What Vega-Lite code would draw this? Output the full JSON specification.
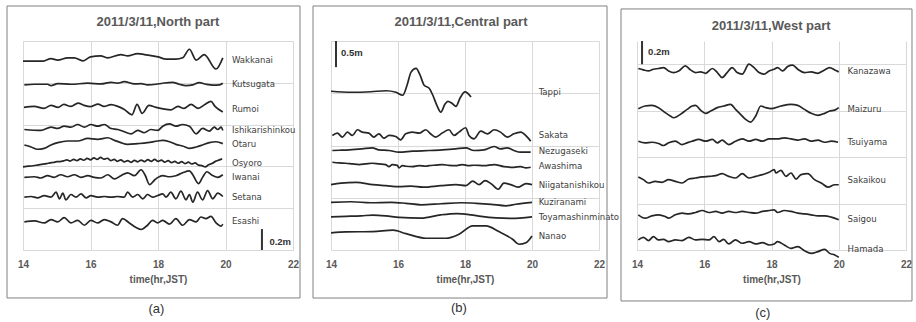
{
"$schema": "https://vega.github.io/schema/vega-lite/v6.json",
"background": "white",
"padding": {"left": 6, "top": 5, "right": 5, "bottom": 5},
"bounds": "flush",
"spacing": 38,
"config": {
 "font": "Liberation Sans",
 "view": {"stroke": null},
 "axis": {"gridColor": "#d9d9d9", "gridWidth": 1, "domain": false, "ticks": false, "labelFlush": false, "labelOverlap": false},
 "axisX": {"labelFont": "Liberation Sans", "labelFontWeight": "bold", "labelColor": "#595959", "labelFontSize": 10, "labelPadding": 9, "titleFont": "Liberation Sans", "titleFontWeight": "bold", "titleColor": "#595959", "titleFontSize": 10, "titlePadding": 5}
},
"datasets": {
"labels": [
 {"p":"a","s":"Wakkanai","v":1.82},{"p":"a","s":"Kutsugata","v":1.592},{"p":"a","s":"Rumoi","v":1.346},{"p":"a","s":"Ishikarishinkou","v":1.147},{"p":"a","s":"Otaru","v":1.019},{"p":"a","s":"Osyoro","v":0.834},{"p":"a","s":"Iwanai","v":0.697},{"p":"a","s":"Setana","v":0.507},{"p":"a","s":"Esashi","v":0.275},
 {"p":"b","s":"Tappi","v":3.019},{"p":"b","s":"Sakata","v":2.192},{"p":"b","s":"Nezugaseki","v":1.904},{"p":"b","s":"Awashima","v":1.615},{"p":"b","s":"Niigatanishikou","v":1.24},{"p":"b","s":"Kuziranami","v":0.923},{"p":"b","s":"Toyamashinminato","v":0.625},{"p":"b","s":"Nanao","v":0.269},
 {"p":"c","s":"Kanazawa","v":1.54},{"p":"c","s":"Maizuru","v":1.211},{"p":"c","s":"Tsuiyama","v":0.926},{"p":"c","s":"Sakaikou","v":0.606},{"p":"c","s":"Saigou","v":0.268},{"p":"c","s":"Hamada","v":0.009}
],
"wave": [
{"p":"a","s":"Wakkanai","t":14.0,"v":1.808},{"p":"a","s":"Wakkanai","t":14.6,"v":1.808},{"p":"a","s":"Wakkanai","t":14.83,"v":1.832},{"p":"a","s":"Wakkanai","t":15.03,"v":1.817},{"p":"a","s":"Wakkanai","t":15.32,"v":1.839},{"p":"a","s":"Wakkanai","t":15.52,"v":1.839},{"p":"a","s":"Wakkanai","t":15.77,"v":1.81},{"p":"a","s":"Wakkanai","t":16.0,"v":1.848},{"p":"a","s":"Wakkanai","t":16.3,"v":1.858},{"p":"a","s":"Wakkanai","t":16.5,"v":1.839},{"p":"a","s":"Wakkanai","t":16.9,"v":1.87},{"p":"a","s":"Wakkanai","t":17.1,"v":1.858},{"p":"a","s":"Wakkanai","t":17.4,"v":1.88},{"p":"a","s":"Wakkanai","t":17.6,"v":1.87},{"p":"a","s":"Wakkanai","t":18.0,"v":1.848},{"p":"a","s":"Wakkanai","t":18.24,"v":1.827},{"p":"a","s":"Wakkanai","t":18.53,"v":1.827},{"p":"a","s":"Wakkanai","t":18.73,"v":1.839},{"p":"a","s":"Wakkanai","t":18.93,"v":1.921},{"p":"a","s":"Wakkanai","t":19.13,"v":1.817},{"p":"a","s":"Wakkanai","t":19.37,"v":1.87},{"p":"a","s":"Wakkanai","t":19.72,"v":1.732},{"p":"a","s":"Wakkanai","t":19.92,"v":1.839},
{"p":"a","s":"Kutsugata","t":14.04,"v":1.58},{"p":"a","s":"Kutsugata","t":14.34,"v":1.586},{"p":"a","s":"Kutsugata","t":14.73,"v":1.586},{"p":"a","s":"Kutsugata","t":14.83,"v":1.573},{"p":"a","s":"Kutsugata","t":15.03,"v":1.592},{"p":"a","s":"Kutsugata","t":15.42,"v":1.586},{"p":"a","s":"Kutsugata","t":15.92,"v":1.596},{"p":"a","s":"Kutsugata","t":16.31,"v":1.589},{"p":"a","s":"Kutsugata","t":16.61,"v":1.605},{"p":"a","s":"Kutsugata","t":16.8,"v":1.596},{"p":"a","s":"Kutsugata","t":17.0,"v":1.611},{"p":"a","s":"Kutsugata","t":17.3,"v":1.589},{"p":"a","s":"Kutsugata","t":17.5,"v":1.592},{"p":"a","s":"Kutsugata","t":17.69,"v":1.58},{"p":"a","s":"Kutsugata","t":17.94,"v":1.586},{"p":"a","s":"Kutsugata","t":18.14,"v":1.596},{"p":"a","s":"Kutsugata","t":18.43,"v":1.605},{"p":"a","s":"Kutsugata","t":18.63,"v":1.586},{"p":"a","s":"Kutsugata","t":18.83,"v":1.573},{"p":"a","s":"Kutsugata","t":19.03,"v":1.58},{"p":"a","s":"Kutsugata","t":19.22,"v":1.602},{"p":"a","s":"Kutsugata","t":19.42,"v":1.586},{"p":"a","s":"Kutsugata","t":19.62,"v":1.577},{"p":"a","s":"Kutsugata","t":19.82,"v":1.58},{"p":"a","s":"Kutsugata","t":19.92,"v":1.596},
{"p":"a","s":"Rumoi","t":14.03,"v":1.365},{"p":"a","s":"Rumoi","t":14.33,"v":1.374},{"p":"a","s":"Rumoi","t":14.62,"v":1.355},{"p":"a","s":"Rumoi","t":14.83,"v":1.384},{"p":"a","s":"Rumoi","t":15.04,"v":1.365},{"p":"a","s":"Rumoi","t":15.21,"v":1.393},{"p":"a","s":"Rumoi","t":15.42,"v":1.374},{"p":"a","s":"Rumoi","t":15.63,"v":1.406},{"p":"a","s":"Rumoi","t":15.81,"v":1.384},{"p":"a","s":"Rumoi","t":16.01,"v":1.372},{"p":"a","s":"Rumoi","t":16.22,"v":1.396},{"p":"a","s":"Rumoi","t":16.4,"v":1.374},{"p":"a","s":"Rumoi","t":16.61,"v":1.391},{"p":"a","s":"Rumoi","t":16.81,"v":1.374},{"p":"a","s":"Rumoi","t":16.99,"v":1.347},{"p":"a","s":"Rumoi","t":17.23,"v":1.294},{"p":"a","s":"Rumoi","t":17.38,"v":1.393},{"p":"a","s":"Rumoi","t":17.53,"v":1.308},{"p":"a","s":"Rumoi","t":17.73,"v":1.384},{"p":"a","s":"Rumoi","t":17.94,"v":1.365},{"p":"a","s":"Rumoi","t":18.15,"v":1.351},{"p":"a","s":"Rumoi","t":18.38,"v":1.341},{"p":"a","s":"Rumoi","t":18.59,"v":1.374},{"p":"a","s":"Rumoi","t":18.77,"v":1.355},{"p":"a","s":"Rumoi","t":18.98,"v":1.393},{"p":"a","s":"Rumoi","t":19.19,"v":1.355},{"p":"a","s":"Rumoi","t":19.39,"v":1.393},{"p":"a","s":"Rumoi","t":19.57,"v":1.422},{"p":"a","s":"Rumoi","t":19.69,"v":1.374},{"p":"a","s":"Rumoi","t":19.92,"v":1.32},
{"p":"a","s":"Ishikarishinkou","t":14.04,"v":1.153},{"p":"a","s":"Ishikarishinkou","t":14.53,"v":1.144},{"p":"a","s":"Ishikarishinkou","t":14.83,"v":1.175},{"p":"a","s":"Ishikarishinkou","t":15.03,"v":1.163},{"p":"a","s":"Ishikarishinkou","t":15.22,"v":1.185},{"p":"a","s":"Ishikarishinkou","t":15.42,"v":1.175},{"p":"a","s":"Ishikarishinkou","t":15.62,"v":1.201},{"p":"a","s":"Ishikarishinkou","t":15.82,"v":1.175},{"p":"a","s":"Ishikarishinkou","t":16.01,"v":1.201},{"p":"a","s":"Ishikarishinkou","t":16.21,"v":1.185},{"p":"a","s":"Ishikarishinkou","t":16.41,"v":1.201},{"p":"a","s":"Ishikarishinkou","t":16.61,"v":1.163},{"p":"a","s":"Ishikarishinkou","t":16.81,"v":1.153},{"p":"a","s":"Ishikarishinkou","t":17.0,"v":1.131},{"p":"a","s":"Ishikarishinkou","t":17.2,"v":1.112},{"p":"a","s":"Ishikarishinkou","t":17.4,"v":1.144},{"p":"a","s":"Ishikarishinkou","t":17.59,"v":1.122},{"p":"a","s":"Ishikarishinkou","t":17.79,"v":1.153},{"p":"a","s":"Ishikarishinkou","t":17.99,"v":1.144},{"p":"a","s":"Ishikarishinkou","t":18.14,"v":1.185},{"p":"a","s":"Ishikarishinkou","t":18.34,"v":1.207},{"p":"a","s":"Ishikarishinkou","t":18.53,"v":1.185},{"p":"a","s":"Ishikarishinkou","t":18.73,"v":1.201},{"p":"a","s":"Ishikarishinkou","t":18.93,"v":1.185},{"p":"a","s":"Ishikarishinkou","t":19.13,"v":1.112},{"p":"a","s":"Ishikarishinkou","t":19.32,"v":1.163},{"p":"a","s":"Ishikarishinkou","t":19.52,"v":1.138},{"p":"a","s":"Ishikarishinkou","t":19.67,"v":1.175},{"p":"a","s":"Ishikarishinkou","t":19.77,"v":1.153},{"p":"a","s":"Ishikarishinkou","t":19.87,"v":1.175},{"p":"a","s":"Ishikarishinkou","t":19.92,"v":1.144},
{"p":"a","s":"Otaru","t":14.04,"v":1.005},{"p":"a","s":"Otaru","t":14.24,"v":0.986},{"p":"a","s":"Otaru","t":14.43,"v":0.964},{"p":"a","s":"Otaru","t":14.63,"v":0.973},{"p":"a","s":"Otaru","t":14.83,"v":1.005},{"p":"a","s":"Otaru","t":15.03,"v":1.027},{"p":"a","s":"Otaru","t":15.32,"v":1.043},{"p":"a","s":"Otaru","t":15.62,"v":1.043},{"p":"a","s":"Otaru","t":15.92,"v":1.068},{"p":"a","s":"Otaru","t":16.21,"v":1.059},{"p":"a","s":"Otaru","t":16.51,"v":1.074},{"p":"a","s":"Otaru","t":16.71,"v":1.049},{"p":"a","s":"Otaru","t":16.9,"v":1.027},{"p":"a","s":"Otaru","t":17.1,"v":1.011},{"p":"a","s":"Otaru","t":17.4,"v":1.018},{"p":"a","s":"Otaru","t":17.69,"v":1.027},{"p":"a","s":"Otaru","t":17.99,"v":1.043},{"p":"a","s":"Otaru","t":18.14,"v":1.049},{"p":"a","s":"Otaru","t":18.34,"v":1.036},{"p":"a","s":"Otaru","t":18.53,"v":1.011},{"p":"a","s":"Otaru","t":18.73,"v":0.995},{"p":"a","s":"Otaru","t":18.93,"v":0.973},{"p":"a","s":"Otaru","t":19.13,"v":0.986},{"p":"a","s":"Otaru","t":19.32,"v":1.005},{"p":"a","s":"Otaru","t":19.52,"v":1.027},{"p":"a","s":"Otaru","t":19.72,"v":1.036},{"p":"a","s":"Otaru","t":19.92,"v":1.018},
{"p":"a","s":"Osyoro","t":14.0,"v":0.796},{"p":"a","s":"Osyoro","t":14.1,"v":0.8},{"p":"a","s":"Osyoro","t":14.2,"v":0.803},{"p":"a","s":"Osyoro","t":14.3,"v":0.806},{"p":"a","s":"Osyoro","t":14.4,"v":0.811},{"p":"a","s":"Osyoro","t":14.5,"v":0.817},{"p":"a","s":"Osyoro","t":14.6,"v":0.822},{"p":"a","s":"Osyoro","t":14.7,"v":0.826},{"p":"a","s":"Osyoro","t":14.8,"v":0.834},{"p":"a","s":"Osyoro","t":14.9,"v":0.837},{"p":"a","s":"Osyoro","t":15.0,"v":0.845},{"p":"a","s":"Osyoro","t":15.1,"v":0.846},{"p":"a","s":"Osyoro","t":15.2,"v":0.853},{"p":"a","s":"Osyoro","t":15.3,"v":0.862},{"p":"a","s":"Osyoro","t":15.4,"v":0.851},{"p":"a","s":"Osyoro","t":15.5,"v":0.868},{"p":"a","s":"Osyoro","t":15.6,"v":0.855},{"p":"a","s":"Osyoro","t":15.7,"v":0.872},{"p":"a","s":"Osyoro","t":15.8,"v":0.859},{"p":"a","s":"Osyoro","t":15.9,"v":0.877},{"p":"a","s":"Osyoro","t":16.0,"v":0.863},{"p":"a","s":"Osyoro","t":16.1,"v":0.882},{"p":"a","s":"Osyoro","t":16.2,"v":0.867},{"p":"a","s":"Osyoro","t":16.3,"v":0.886},{"p":"a","s":"Osyoro","t":16.4,"v":0.869},{"p":"a","s":"Osyoro","t":16.5,"v":0.878},{"p":"a","s":"Osyoro","t":16.6,"v":0.856},{"p":"a","s":"Osyoro","t":16.7,"v":0.868},{"p":"a","s":"Osyoro","t":16.8,"v":0.849},{"p":"a","s":"Osyoro","t":16.9,"v":0.862},{"p":"a","s":"Osyoro","t":17.0,"v":0.843},{"p":"a","s":"Osyoro","t":17.1,"v":0.856},{"p":"a","s":"Osyoro","t":17.2,"v":0.839},{"p":"a","s":"Osyoro","t":17.3,"v":0.858},{"p":"a","s":"Osyoro","t":17.4,"v":0.844},{"p":"a","s":"Osyoro","t":17.5,"v":0.861},{"p":"a","s":"Osyoro","t":17.6,"v":0.846},{"p":"a","s":"Osyoro","t":17.7,"v":0.865},{"p":"a","s":"Osyoro","t":17.8,"v":0.849},{"p":"a","s":"Osyoro","t":17.9,"v":0.868},{"p":"a","s":"Osyoro","t":18.0,"v":0.848},{"p":"a","s":"Osyoro","t":18.1,"v":0.861},{"p":"a","s":"Osyoro","t":18.2,"v":0.841},{"p":"a","s":"Osyoro","t":18.3,"v":0.855},{"p":"a","s":"Osyoro","t":18.4,"v":0.836},{"p":"a","s":"Osyoro","t":18.5,"v":0.848},{"p":"a","s":"Osyoro","t":18.6,"v":0.83},{"p":"a","s":"Osyoro","t":18.7,"v":0.845},{"p":"a","s":"Osyoro","t":18.8,"v":0.827},{"p":"a","s":"Osyoro","t":18.9,"v":0.84},{"p":"a","s":"Osyoro","t":19.0,"v":0.823},{"p":"a","s":"Osyoro","t":19.1,"v":0.833},{"p":"a","s":"Osyoro","t":19.2,"v":0.812},{"p":"a","s":"Osyoro","t":19.3,"v":0.808},{"p":"a","s":"Osyoro","t":19.4,"v":0.796},{"p":"a","s":"Osyoro","t":19.5,"v":0.815},{"p":"a","s":"Osyoro","t":19.6,"v":0.828},{"p":"a","s":"Osyoro","t":19.7,"v":0.848},{"p":"a","s":"Osyoro","t":19.8,"v":0.86},{"p":"a","s":"Osyoro","t":19.9,"v":0.872},
{"p":"a","s":"Iwanai","t":14.04,"v":0.695},{"p":"a","s":"Iwanai","t":14.34,"v":0.701},{"p":"a","s":"Iwanai","t":14.53,"v":0.689},{"p":"a","s":"Iwanai","t":14.73,"v":0.711},{"p":"a","s":"Iwanai","t":14.92,"v":0.695},{"p":"a","s":"Iwanai","t":15.12,"v":0.72},{"p":"a","s":"Iwanai","t":15.32,"v":0.701},{"p":"a","s":"Iwanai","t":15.52,"v":0.72},{"p":"a","s":"Iwanai","t":15.72,"v":0.695},{"p":"a","s":"Iwanai","t":15.92,"v":0.711},{"p":"a","s":"Iwanai","t":16.11,"v":0.695},{"p":"a","s":"Iwanai","t":16.31,"v":0.689},{"p":"a","s":"Iwanai","t":16.51,"v":0.72},{"p":"a","s":"Iwanai","t":16.71,"v":0.68},{"p":"a","s":"Iwanai","t":16.9,"v":0.711},{"p":"a","s":"Iwanai","t":17.1,"v":0.739},{"p":"a","s":"Iwanai","t":17.3,"v":0.711},{"p":"a","s":"Iwanai","t":17.5,"v":0.768},{"p":"a","s":"Iwanai","t":17.62,"v":0.715},{"p":"a","s":"Iwanai","t":17.75,"v":0.626},{"p":"a","s":"Iwanai","t":17.9,"v":0.67},{"p":"a","s":"Iwanai","t":18.0,"v":0.695},{"p":"a","s":"Iwanai","t":18.14,"v":0.711},{"p":"a","s":"Iwanai","t":18.34,"v":0.701},{"p":"a","s":"Iwanai","t":18.53,"v":0.711},{"p":"a","s":"Iwanai","t":18.73,"v":0.739},{"p":"a","s":"Iwanai","t":18.93,"v":0.758},{"p":"a","s":"Iwanai","t":19.03,"v":0.72},{"p":"a","s":"Iwanai","t":19.2,"v":0.635},{"p":"a","s":"Iwanai","t":19.32,"v":0.695},{"p":"a","s":"Iwanai","t":19.45,"v":0.749},{"p":"a","s":"Iwanai","t":19.6,"v":0.715},{"p":"a","s":"Iwanai","t":19.77,"v":0.695},{"p":"a","s":"Iwanai","t":19.92,"v":0.72},
{"p":"a","s":"Setana","t":14.04,"v":0.506},{"p":"a","s":"Setana","t":14.24,"v":0.512},{"p":"a","s":"Setana","t":14.43,"v":0.499},{"p":"a","s":"Setana","t":14.63,"v":0.521},{"p":"a","s":"Setana","t":14.83,"v":0.506},{"p":"a","s":"Setana","t":14.98,"v":0.553},{"p":"a","s":"Setana","t":15.08,"v":0.49},{"p":"a","s":"Setana","t":15.18,"v":0.544},{"p":"a","s":"Setana","t":15.27,"v":0.48},{"p":"a","s":"Setana","t":15.42,"v":0.531},{"p":"a","s":"Setana","t":15.57,"v":0.506},{"p":"a","s":"Setana","t":15.72,"v":0.537},{"p":"a","s":"Setana","t":15.87,"v":0.499},{"p":"a","s":"Setana","t":16.01,"v":0.521},{"p":"a","s":"Setana","t":16.21,"v":0.506},{"p":"a","s":"Setana","t":16.41,"v":0.512},{"p":"a","s":"Setana","t":16.61,"v":0.506},{"p":"a","s":"Setana","t":16.8,"v":0.512},{"p":"a","s":"Setana","t":17.0,"v":0.506},{"p":"a","s":"Setana","t":17.1,"v":0.553},{"p":"a","s":"Setana","t":17.25,"v":0.506},{"p":"a","s":"Setana","t":17.4,"v":0.531},{"p":"a","s":"Setana","t":17.55,"v":0.49},{"p":"a","s":"Setana","t":17.69,"v":0.531},{"p":"a","s":"Setana","t":17.84,"v":0.506},{"p":"a","s":"Setana","t":17.99,"v":0.521},{"p":"a","s":"Setana","t":18.14,"v":0.537},{"p":"a","s":"Setana","t":18.24,"v":0.506},{"p":"a","s":"Setana","t":18.38,"v":0.553},{"p":"a","s":"Setana","t":18.53,"v":0.49},{"p":"a","s":"Setana","t":18.68,"v":0.563},{"p":"a","s":"Setana","t":18.83,"v":0.48},{"p":"a","s":"Setana","t":18.93,"v":0.531},{"p":"a","s":"Setana","t":19.03,"v":0.458},{"p":"a","s":"Setana","t":19.17,"v":0.553},{"p":"a","s":"Setana","t":19.32,"v":0.48},{"p":"a","s":"Setana","t":19.47,"v":0.569},{"p":"a","s":"Setana","t":19.62,"v":0.49},{"p":"a","s":"Setana","t":19.77,"v":0.544},{"p":"a","s":"Setana","t":19.92,"v":0.512},
{"p":"a","s":"Esashi","t":14.04,"v":0.269},{"p":"a","s":"Esashi","t":14.34,"v":0.278},{"p":"a","s":"Esashi","t":14.63,"v":0.259},{"p":"a","s":"Esashi","t":14.83,"v":0.291},{"p":"a","s":"Esashi","t":15.03,"v":0.269},{"p":"a","s":"Esashi","t":15.22,"v":0.31},{"p":"a","s":"Esashi","t":15.42,"v":0.259},{"p":"a","s":"Esashi","t":15.62,"v":0.284},{"p":"a","s":"Esashi","t":15.82,"v":0.237},{"p":"a","s":"Esashi","t":16.01,"v":0.284},{"p":"a","s":"Esashi","t":16.21,"v":0.259},{"p":"a","s":"Esashi","t":16.41,"v":0.291},{"p":"a","s":"Esashi","t":16.61,"v":0.269},{"p":"a","s":"Esashi","t":16.8,"v":0.237},{"p":"a","s":"Esashi","t":16.95,"v":0.3},{"p":"a","s":"Esashi","t":17.15,"v":0.259},{"p":"a","s":"Esashi","t":17.35,"v":0.215},{"p":"a","s":"Esashi","t":17.5,"v":0.196},{"p":"a","s":"Esashi","t":17.69,"v":0.237},{"p":"a","s":"Esashi","t":17.84,"v":0.284},{"p":"a","s":"Esashi","t":17.99,"v":0.259},{"p":"a","s":"Esashi","t":18.14,"v":0.284},{"p":"a","s":"Esashi","t":18.34,"v":0.247},{"p":"a","s":"Esashi","t":18.53,"v":0.3},{"p":"a","s":"Esashi","t":18.73,"v":0.237},{"p":"a","s":"Esashi","t":18.93,"v":0.291},{"p":"a","s":"Esashi","t":19.13,"v":0.269},{"p":"a","s":"Esashi","t":19.27,"v":0.316},{"p":"a","s":"Esashi","t":19.42,"v":0.3},{"p":"a","s":"Esashi","t":19.57,"v":0.322},{"p":"a","s":"Esashi","t":19.72,"v":0.259},{"p":"a","s":"Esashi","t":19.87,"v":0.228},{"p":"a","s":"Esashi","t":19.92,"v":0.247},
{"p":"b","s":"Tappi","t":14.0,"v":3.038},{"p":"b","s":"Tappi","t":14.6,"v":3.019},{"p":"b","s":"Tappi","t":15.19,"v":3.029},{"p":"b","s":"Tappi","t":15.64,"v":3.048},{"p":"b","s":"Tappi","t":15.94,"v":3.019},{"p":"b","s":"Tappi","t":16.14,"v":2.962},{"p":"b","s":"Tappi","t":16.27,"v":3.154},{"p":"b","s":"Tappi","t":16.39,"v":3.404},{"p":"b","s":"Tappi","t":16.54,"v":3.475},{"p":"b","s":"Tappi","t":16.66,"v":3.346},{"p":"b","s":"Tappi","t":16.78,"v":3.154},{"p":"b","s":"Tappi","t":16.93,"v":3.096},{"p":"b","s":"Tappi","t":17.04,"v":2.962},{"p":"b","s":"Tappi","t":17.16,"v":2.769},{"p":"b","s":"Tappi","t":17.28,"v":2.64},{"p":"b","s":"Tappi","t":17.4,"v":2.788},{"p":"b","s":"Tappi","t":17.49,"v":2.846},{"p":"b","s":"Tappi","t":17.61,"v":2.808},{"p":"b","s":"Tappi","t":17.73,"v":2.75},{"p":"b","s":"Tappi","t":17.85,"v":2.904},{"p":"b","s":"Tappi","t":18.0,"v":3.025},{"p":"b","s":"Tappi","t":18.18,"v":2.929},
{"p":"b","s":"Sakata","t":14.04,"v":2.192},{"p":"b","s":"Sakata","t":14.19,"v":2.237},{"p":"b","s":"Sakata","t":14.34,"v":2.16},{"p":"b","s":"Sakata","t":14.49,"v":2.256},{"p":"b","s":"Sakata","t":14.64,"v":2.192},{"p":"b","s":"Sakata","t":14.79,"v":2.301},{"p":"b","s":"Sakata","t":14.93,"v":2.256},{"p":"b","s":"Sakata","t":15.13,"v":2.237},{"p":"b","s":"Sakata","t":15.28,"v":2.16},{"p":"b","s":"Sakata","t":15.43,"v":2.224},{"p":"b","s":"Sakata","t":15.58,"v":2.141},{"p":"b","s":"Sakata","t":15.73,"v":2.192},{"p":"b","s":"Sakata","t":15.93,"v":2.173},{"p":"b","s":"Sakata","t":16.08,"v":2.109},{"p":"b","s":"Sakata","t":16.23,"v":2.224},{"p":"b","s":"Sakata","t":16.43,"v":2.256},{"p":"b","s":"Sakata","t":16.63,"v":2.237},{"p":"b","s":"Sakata","t":16.83,"v":2.301},{"p":"b","s":"Sakata","t":16.97,"v":2.224},{"p":"b","s":"Sakata","t":17.12,"v":2.16},{"p":"b","s":"Sakata","t":17.32,"v":2.237},{"p":"b","s":"Sakata","t":17.52,"v":2.301},{"p":"b","s":"Sakata","t":17.67,"v":2.192},{"p":"b","s":"Sakata","t":17.82,"v":2.256},{"p":"b","s":"Sakata","t":18.02,"v":2.34},{"p":"b","s":"Sakata","t":18.12,"v":2.192},{"p":"b","s":"Sakata","t":18.27,"v":2.128},{"p":"b","s":"Sakata","t":18.47,"v":2.276},{"p":"b","s":"Sakata","t":18.67,"v":2.224},{"p":"b","s":"Sakata","t":18.87,"v":2.301},{"p":"b","s":"Sakata","t":19.06,"v":2.256},{"p":"b","s":"Sakata","t":19.26,"v":2.16},{"p":"b","s":"Sakata","t":19.46,"v":2.224},{"p":"b","s":"Sakata","t":19.66,"v":2.256},{"p":"b","s":"Sakata","t":19.86,"v":2.16},{"p":"b","s":"Sakata","t":19.96,"v":2.083},
{"p":"b","s":"Nezugaseki","t":14.04,"v":1.904},{"p":"b","s":"Nezugaseki","t":14.3,"v":1.91},{"p":"b","s":"Nezugaseki","t":14.54,"v":1.917},{"p":"b","s":"Nezugaseki","t":14.93,"v":1.936},{"p":"b","s":"Nezugaseki","t":15.23,"v":1.955},{"p":"b","s":"Nezugaseki","t":15.43,"v":1.917},{"p":"b","s":"Nezugaseki","t":15.73,"v":1.904},{"p":"b","s":"Nezugaseki","t":16.03,"v":1.872},{"p":"b","s":"Nezugaseki","t":16.43,"v":1.891},{"p":"b","s":"Nezugaseki","t":16.93,"v":1.904},{"p":"b","s":"Nezugaseki","t":17.32,"v":1.917},{"p":"b","s":"Nezugaseki","t":17.72,"v":1.936},{"p":"b","s":"Nezugaseki","t":18.02,"v":1.955},{"p":"b","s":"Nezugaseki","t":18.27,"v":1.904},{"p":"b","s":"Nezugaseki","t":18.57,"v":1.917},{"p":"b","s":"Nezugaseki","t":18.87,"v":1.981},{"p":"b","s":"Nezugaseki","t":19.06,"v":1.936},{"p":"b","s":"Nezugaseki","t":19.26,"v":1.955},{"p":"b","s":"Nezugaseki","t":19.46,"v":1.904},{"p":"b","s":"Nezugaseki","t":19.66,"v":1.872},{"p":"b","s":"Nezugaseki","t":19.96,"v":1.872},
{"p":"b","s":"Awashima","t":14.04,"v":1.679},{"p":"b","s":"Awashima","t":14.24,"v":1.667},{"p":"b","s":"Awashima","t":14.44,"v":1.66},{"p":"b","s":"Awashima","t":14.64,"v":1.647},{"p":"b","s":"Awashima","t":14.84,"v":1.635},{"p":"b","s":"Awashima","t":15.03,"v":1.647},{"p":"b","s":"Awashima","t":15.23,"v":1.66},{"p":"b","s":"Awashima","t":15.43,"v":1.647},{"p":"b","s":"Awashima","t":15.63,"v":1.635},{"p":"b","s":"Awashima","t":15.73,"v":1.596},{"p":"b","s":"Awashima","t":15.83,"v":1.635},{"p":"b","s":"Awashima","t":15.98,"v":1.62},{"p":"b","s":"Awashima","t":16.03,"v":1.571},{"p":"b","s":"Awashima","t":16.13,"v":1.615},{"p":"b","s":"Awashima","t":16.23,"v":1.603},{"p":"b","s":"Awashima","t":16.43,"v":1.596},{"p":"b","s":"Awashima","t":16.63,"v":1.615},{"p":"b","s":"Awashima","t":16.83,"v":1.603},{"p":"b","s":"Awashima","t":16.93,"v":1.615},{"p":"b","s":"Awashima","t":17.13,"v":1.625},{"p":"b","s":"Awashima","t":17.32,"v":1.635},{"p":"b","s":"Awashima","t":17.52,"v":1.62},{"p":"b","s":"Awashima","t":17.72,"v":1.615},{"p":"b","s":"Awashima","t":17.92,"v":1.635},{"p":"b","s":"Awashima","t":18.12,"v":1.615},{"p":"b","s":"Awashima","t":18.27,"v":1.622},{"p":"b","s":"Awashima","t":18.57,"v":1.615},{"p":"b","s":"Awashima","t":18.87,"v":1.635},{"p":"b","s":"Awashima","t":19.16,"v":1.596},{"p":"b","s":"Awashima","t":19.46,"v":1.583},{"p":"b","s":"Awashima","t":19.66,"v":1.596},{"p":"b","s":"Awashima","t":19.82,"v":1.571},{"p":"b","s":"Awashima","t":19.96,"v":1.583},
{"p":"b","s":"Niigatanishikou","t":14.0,"v":1.25},{"p":"b","s":"Niigatanishikou","t":14.3,"v":1.279},{"p":"b","s":"Niigatanishikou","t":14.75,"v":1.294},{"p":"b","s":"Niigatanishikou","t":15.25,"v":1.25},{"p":"b","s":"Niigatanishikou","t":15.64,"v":1.231},{"p":"b","s":"Niigatanishikou","t":16.03,"v":1.212},{"p":"b","s":"Niigatanishikou","t":16.39,"v":1.221},{"p":"b","s":"Niigatanishikou","t":16.75,"v":1.202},{"p":"b","s":"Niigatanishikou","t":17.28,"v":1.231},{"p":"b","s":"Niigatanishikou","t":17.73,"v":1.25},{"p":"b","s":"Niigatanishikou","t":18.03,"v":1.231},{"p":"b","s":"Niigatanishikou","t":18.23,"v":1.317},{"p":"b","s":"Niigatanishikou","t":18.42,"v":1.25},{"p":"b","s":"Niigatanishikou","t":18.6,"v":1.327},{"p":"b","s":"Niigatanishikou","t":18.78,"v":1.269},{"p":"b","s":"Niigatanishikou","t":18.99,"v":1.163},{"p":"b","s":"Niigatanishikou","t":19.16,"v":1.279},{"p":"b","s":"Niigatanishikou","t":19.37,"v":1.25},{"p":"b","s":"Niigatanishikou","t":19.58,"v":1.202},{"p":"b","s":"Niigatanishikou","t":19.82,"v":1.269},{"p":"b","s":"Niigatanishikou","t":20.0,"v":1.25},
{"p":"b","s":"Kuziranami","t":14.0,"v":0.913},{"p":"b","s":"Kuziranami","t":14.6,"v":0.923},{"p":"b","s":"Kuziranami","t":15.19,"v":0.904},{"p":"b","s":"Kuziranami","t":15.79,"v":0.913},{"p":"b","s":"Kuziranami","t":16.24,"v":0.894},{"p":"b","s":"Kuziranami","t":16.69,"v":0.865},{"p":"b","s":"Kuziranami","t":17.28,"v":0.885},{"p":"b","s":"Kuziranami","t":17.88,"v":0.904},{"p":"b","s":"Kuziranami","t":18.33,"v":0.894},{"p":"b","s":"Kuziranami","t":18.78,"v":0.875},{"p":"b","s":"Kuziranami","t":19.22,"v":0.846},{"p":"b","s":"Kuziranami","t":19.52,"v":0.875},{"p":"b","s":"Kuziranami","t":20.0,"v":0.913},
{"p":"b","s":"Toyamashinminato","t":14.0,"v":0.635},{"p":"b","s":"Toyamashinminato","t":14.45,"v":0.644},{"p":"b","s":"Toyamashinminato","t":14.9,"v":0.654},{"p":"b","s":"Toyamashinminato","t":15.25,"v":0.669},{"p":"b","s":"Toyamashinminato","t":15.64,"v":0.654},{"p":"b","s":"Toyamashinminato","t":16.03,"v":0.625},{"p":"b","s":"Toyamashinminato","t":16.69,"v":0.61},{"p":"b","s":"Toyamashinminato","t":17.28,"v":0.673},{"p":"b","s":"Toyamashinminato","t":17.76,"v":0.698},{"p":"b","s":"Toyamashinminato","t":18.18,"v":0.673},{"p":"b","s":"Toyamashinminato","t":18.48,"v":0.644},{"p":"b","s":"Toyamashinminato","t":18.93,"v":0.615},{"p":"b","s":"Toyamashinminato","t":19.37,"v":0.606},{"p":"b","s":"Toyamashinminato","t":20.0,"v":0.635},
{"p":"b","s":"Nanao","t":14.0,"v":0.327},{"p":"b","s":"Nanao","t":14.45,"v":0.346},{"p":"b","s":"Nanao","t":15.25,"v":0.352},{"p":"b","s":"Nanao","t":15.85,"v":0.379},{"p":"b","s":"Nanao","t":16.24,"v":0.313},{"p":"b","s":"Nanao","t":16.84,"v":0.225},{"p":"b","s":"Nanao","t":17.43,"v":0.225},{"p":"b","s":"Nanao","t":17.82,"v":0.302},{"p":"b","s":"Nanao","t":18.23,"v":0.462},{"p":"b","s":"Nanao","t":18.63,"v":0.462},{"p":"b","s":"Nanao","t":19.01,"v":0.352},{"p":"b","s":"Nanao","t":19.42,"v":0.206},{"p":"b","s":"Nanao","t":19.61,"v":0.11},{"p":"b","s":"Nanao","t":19.82,"v":0.14},{"p":"b","s":"Nanao","t":20.0,"v":0.269},
{"p":"c","s":"Kanazawa","t":14.04,"v":1.563},{"p":"c","s":"Kanazawa","t":14.19,"v":1.551},{"p":"c","s":"Kanazawa","t":14.34,"v":1.542},{"p":"c","s":"Kanazawa","t":14.49,"v":1.557},{"p":"c","s":"Kanazawa","t":14.64,"v":1.563},{"p":"c","s":"Kanazawa","t":14.79,"v":1.571},{"p":"c","s":"Kanazawa","t":14.94,"v":1.542},{"p":"c","s":"Kanazawa","t":15.09,"v":1.528},{"p":"c","s":"Kanazawa","t":15.24,"v":1.542},{"p":"c","s":"Kanazawa","t":15.44,"v":1.586},{"p":"c","s":"Kanazawa","t":15.59,"v":1.551},{"p":"c","s":"Kanazawa","t":15.74,"v":1.528},{"p":"c","s":"Kanazawa","t":15.89,"v":1.534},{"p":"c","s":"Kanazawa","t":16.04,"v":1.522},{"p":"c","s":"Kanazawa","t":16.24,"v":1.563},{"p":"c","s":"Kanazawa","t":16.39,"v":1.528},{"p":"c","s":"Kanazawa","t":16.53,"v":1.485},{"p":"c","s":"Kanazawa","t":16.68,"v":1.528},{"p":"c","s":"Kanazawa","t":16.83,"v":1.571},{"p":"c","s":"Kanazawa","t":16.98,"v":1.528},{"p":"c","s":"Kanazawa","t":17.13,"v":1.514},{"p":"c","s":"Kanazawa","t":17.33,"v":1.6},{"p":"c","s":"Kanazawa","t":17.48,"v":1.571},{"p":"c","s":"Kanazawa","t":17.63,"v":1.528},{"p":"c","s":"Kanazawa","t":17.78,"v":1.514},{"p":"c","s":"Kanazawa","t":17.93,"v":1.542},{"p":"c","s":"Kanazawa","t":18.08,"v":1.557},{"p":"c","s":"Kanazawa","t":18.18,"v":1.571},{"p":"c","s":"Kanazawa","t":18.33,"v":1.542},{"p":"c","s":"Kanazawa","t":18.48,"v":1.58},{"p":"c","s":"Kanazawa","t":18.63,"v":1.592},{"p":"c","s":"Kanazawa","t":18.78,"v":1.557},{"p":"c","s":"Kanazawa","t":18.98,"v":1.528},{"p":"c","s":"Kanazawa","t":19.18,"v":1.534},{"p":"c","s":"Kanazawa","t":19.38,"v":1.522},{"p":"c","s":"Kanazawa","t":19.58,"v":1.551},{"p":"c","s":"Kanazawa","t":19.73,"v":1.571},{"p":"c","s":"Kanazawa","t":19.88,"v":1.551},{"p":"c","s":"Kanazawa","t":20.0,"v":1.534},
{"p":"c","s":"Maizuru","t":14.04,"v":1.217},{"p":"c","s":"Maizuru","t":14.24,"v":1.24},{"p":"c","s":"Maizuru","t":14.44,"v":1.246},{"p":"c","s":"Maizuru","t":14.64,"v":1.226},{"p":"c","s":"Maizuru","t":14.84,"v":1.183},{"p":"c","s":"Maizuru","t":14.99,"v":1.154},{"p":"c","s":"Maizuru","t":15.09,"v":1.139},{"p":"c","s":"Maizuru","t":15.29,"v":1.168},{"p":"c","s":"Maizuru","t":15.49,"v":1.211},{"p":"c","s":"Maizuru","t":15.64,"v":1.24},{"p":"c","s":"Maizuru","t":15.74,"v":1.246},{"p":"c","s":"Maizuru","t":15.89,"v":1.205},{"p":"c","s":"Maizuru","t":16.04,"v":1.177},{"p":"c","s":"Maizuru","t":16.19,"v":1.197},{"p":"c","s":"Maizuru","t":16.39,"v":1.226},{"p":"c","s":"Maizuru","t":16.58,"v":1.24},{"p":"c","s":"Maizuru","t":16.78,"v":1.254},{"p":"c","s":"Maizuru","t":16.93,"v":1.211},{"p":"c","s":"Maizuru","t":17.08,"v":1.168},{"p":"c","s":"Maizuru","t":17.23,"v":1.125},{"p":"c","s":"Maizuru","t":17.38,"v":1.102},{"p":"c","s":"Maizuru","t":17.53,"v":1.154},{"p":"c","s":"Maizuru","t":17.68,"v":1.24},{"p":"c","s":"Maizuru","t":17.83,"v":1.226},{"p":"c","s":"Maizuru","t":17.98,"v":1.217},{"p":"c","s":"Maizuru","t":18.28,"v":1.24},{"p":"c","s":"Maizuru","t":18.58,"v":1.254},{"p":"c","s":"Maizuru","t":18.78,"v":1.246},{"p":"c","s":"Maizuru","t":18.98,"v":1.211},{"p":"c","s":"Maizuru","t":19.18,"v":1.177},{"p":"c","s":"Maizuru","t":19.38,"v":1.16},{"p":"c","s":"Maizuru","t":19.58,"v":1.177},{"p":"c","s":"Maizuru","t":19.73,"v":1.197},{"p":"c","s":"Maizuru","t":19.88,"v":1.205},{"p":"c","s":"Maizuru","t":20.0,"v":1.226},
{"p":"c","s":"Tsuiyama","t":14.04,"v":0.937},{"p":"c","s":"Tsuiyama","t":14.24,"v":0.923},{"p":"c","s":"Tsuiyama","t":14.44,"v":0.928},{"p":"c","s":"Tsuiyama","t":14.64,"v":0.917},{"p":"c","s":"Tsuiyama","t":14.79,"v":0.9},{"p":"c","s":"Tsuiyama","t":14.94,"v":0.923},{"p":"c","s":"Tsuiyama","t":15.14,"v":0.937},{"p":"c","s":"Tsuiyama","t":15.34,"v":0.908},{"p":"c","s":"Tsuiyama","t":15.49,"v":0.923},{"p":"c","s":"Tsuiyama","t":15.64,"v":0.937},{"p":"c","s":"Tsuiyama","t":15.84,"v":0.952},{"p":"c","s":"Tsuiyama","t":16.04,"v":0.937},{"p":"c","s":"Tsuiyama","t":16.24,"v":0.952},{"p":"c","s":"Tsuiyama","t":16.39,"v":0.923},{"p":"c","s":"Tsuiyama","t":16.53,"v":0.946},{"p":"c","s":"Tsuiyama","t":16.73,"v":0.908},{"p":"c","s":"Tsuiyama","t":16.93,"v":0.937},{"p":"c","s":"Tsuiyama","t":17.13,"v":0.957},{"p":"c","s":"Tsuiyama","t":17.33,"v":0.937},{"p":"c","s":"Tsuiyama","t":17.53,"v":0.952},{"p":"c","s":"Tsuiyama","t":17.73,"v":0.937},{"p":"c","s":"Tsuiyama","t":17.93,"v":0.957},{"p":"c","s":"Tsuiyama","t":18.18,"v":0.957},{"p":"c","s":"Tsuiyama","t":18.38,"v":0.966},{"p":"c","s":"Tsuiyama","t":18.58,"v":0.957},{"p":"c","s":"Tsuiyama","t":18.78,"v":0.946},{"p":"c","s":"Tsuiyama","t":18.98,"v":0.957},{"p":"c","s":"Tsuiyama","t":19.18,"v":0.937},{"p":"c","s":"Tsuiyama","t":19.38,"v":0.946},{"p":"c","s":"Tsuiyama","t":19.58,"v":0.928},{"p":"c","s":"Tsuiyama","t":19.78,"v":0.937},{"p":"c","s":"Tsuiyama","t":19.98,"v":0.928},
{"p":"c","s":"Sakaikou","t":14.04,"v":0.629},{"p":"c","s":"Sakaikou","t":14.19,"v":0.606},{"p":"c","s":"Sakaikou","t":14.34,"v":0.577},{"p":"c","s":"Sakaikou","t":14.54,"v":0.591},{"p":"c","s":"Sakaikou","t":14.74,"v":0.583},{"p":"c","s":"Sakaikou","t":14.94,"v":0.606},{"p":"c","s":"Sakaikou","t":15.14,"v":0.591},{"p":"c","s":"Sakaikou","t":15.34,"v":0.577},{"p":"c","s":"Sakaikou","t":15.54,"v":0.611},{"p":"c","s":"Sakaikou","t":15.74,"v":0.62},{"p":"c","s":"Sakaikou","t":15.94,"v":0.629},{"p":"c","s":"Sakaikou","t":16.14,"v":0.634},{"p":"c","s":"Sakaikou","t":16.34,"v":0.64},{"p":"c","s":"Sakaikou","t":16.53,"v":0.657},{"p":"c","s":"Sakaikou","t":16.73,"v":0.634},{"p":"c","s":"Sakaikou","t":16.93,"v":0.62},{"p":"c","s":"Sakaikou","t":17.13,"v":0.657},{"p":"c","s":"Sakaikou","t":17.33,"v":0.62},{"p":"c","s":"Sakaikou","t":17.53,"v":0.634},{"p":"c","s":"Sakaikou","t":17.73,"v":0.649},{"p":"c","s":"Sakaikou","t":17.93,"v":0.669},{"p":"c","s":"Sakaikou","t":18.08,"v":0.692},{"p":"c","s":"Sakaikou","t":18.13,"v":0.663},{"p":"c","s":"Sakaikou","t":18.28,"v":0.686},{"p":"c","s":"Sakaikou","t":18.43,"v":0.634},{"p":"c","s":"Sakaikou","t":18.58,"v":0.663},{"p":"c","s":"Sakaikou","t":18.73,"v":0.611},{"p":"c","s":"Sakaikou","t":18.88,"v":0.649},{"p":"c","s":"Sakaikou","t":19.08,"v":0.657},{"p":"c","s":"Sakaikou","t":19.28,"v":0.606},{"p":"c","s":"Sakaikou","t":19.48,"v":0.577},{"p":"c","s":"Sakaikou","t":19.68,"v":0.542},{"p":"c","s":"Sakaikou","t":19.88,"v":0.562},{"p":"c","s":"Sakaikou","t":20.0,"v":0.562},
{"p":"c","s":"Saigou","t":14.04,"v":0.303},{"p":"c","s":"Saigou","t":14.24,"v":0.274},{"p":"c","s":"Saigou","t":14.44,"v":0.294},{"p":"c","s":"Saigou","t":14.64,"v":0.303},{"p":"c","s":"Saigou","t":14.84,"v":0.288},{"p":"c","s":"Saigou","t":14.94,"v":0.274},{"p":"c","s":"Saigou","t":15.14,"v":0.303},{"p":"c","s":"Saigou","t":15.34,"v":0.317},{"p":"c","s":"Saigou","t":15.54,"v":0.311},{"p":"c","s":"Saigou","t":15.74,"v":0.323},{"p":"c","s":"Saigou","t":15.94,"v":0.34},{"p":"c","s":"Saigou","t":16.14,"v":0.323},{"p":"c","s":"Saigou","t":16.34,"v":0.332},{"p":"c","s":"Saigou","t":16.53,"v":0.317},{"p":"c","s":"Saigou","t":16.73,"v":0.332},{"p":"c","s":"Saigou","t":16.93,"v":0.323},{"p":"c","s":"Saigou","t":17.13,"v":0.332},{"p":"c","s":"Saigou","t":17.33,"v":0.323},{"p":"c","s":"Saigou","t":17.53,"v":0.317},{"p":"c","s":"Saigou","t":17.73,"v":0.332},{"p":"c","s":"Saigou","t":17.93,"v":0.34},{"p":"c","s":"Saigou","t":18.08,"v":0.346},{"p":"c","s":"Saigou","t":18.18,"v":0.323},{"p":"c","s":"Saigou","t":18.38,"v":0.34},{"p":"c","s":"Saigou","t":18.58,"v":0.332},{"p":"c","s":"Saigou","t":18.78,"v":0.317},{"p":"c","s":"Saigou","t":18.98,"v":0.311},{"p":"c","s":"Saigou","t":19.18,"v":0.303},{"p":"c","s":"Saigou","t":19.38,"v":0.294},{"p":"c","s":"Saigou","t":19.58,"v":0.294},{"p":"c","s":"Saigou","t":19.78,"v":0.283},{"p":"c","s":"Saigou","t":20.0,"v":0.26},
{"p":"c","s":"Hamada","t":14.04,"v":0.087},{"p":"c","s":"Hamada","t":14.19,"v":0.109},{"p":"c","s":"Hamada","t":14.34,"v":0.081},{"p":"c","s":"Hamada","t":14.49,"v":0.115},{"p":"c","s":"Hamada","t":14.64,"v":0.087},{"p":"c","s":"Hamada","t":14.79,"v":0.092},{"p":"c","s":"Hamada","t":14.94,"v":0.072},{"p":"c","s":"Hamada","t":15.14,"v":0.087},{"p":"c","s":"Hamada","t":15.34,"v":0.081},{"p":"c","s":"Hamada","t":15.54,"v":0.109},{"p":"c","s":"Hamada","t":15.74,"v":0.087},{"p":"c","s":"Hamada","t":15.94,"v":0.092},{"p":"c","s":"Hamada","t":16.14,"v":0.087},{"p":"c","s":"Hamada","t":16.29,"v":0.115},{"p":"c","s":"Hamada","t":16.44,"v":0.072},{"p":"c","s":"Hamada","t":16.58,"v":0.092},{"p":"c","s":"Hamada","t":16.73,"v":0.052},{"p":"c","s":"Hamada","t":16.93,"v":0.087},{"p":"c","s":"Hamada","t":17.13,"v":0.058},{"p":"c","s":"Hamada","t":17.33,"v":0.072},{"p":"c","s":"Hamada","t":17.53,"v":0.052},{"p":"c","s":"Hamada","t":17.73,"v":0.063},{"p":"c","s":"Hamada","t":17.93,"v":0.043},{"p":"c","s":"Hamada","t":18.08,"v":0.052},{"p":"c","s":"Hamada","t":18.18,"v":0.072},{"p":"c","s":"Hamada","t":18.38,"v":0.043},{"p":"c","s":"Hamada","t":18.58,"v":0.014},{"p":"c","s":"Hamada","t":18.78,"v":0.029},{"p":"c","s":"Hamada","t":18.98,"v":-0.006},{"p":"c","s":"Hamada","t":19.18,"v":-0.029},{"p":"c","s":"Hamada","t":19.38,"v":-0.014},{"p":"c","s":"Hamada","t":19.58,"v":0.006},{"p":"c","s":"Hamada","t":19.73,"v":-0.029},{"p":"c","s":"Hamada","t":19.88,"v":-0.043},{"p":"c","s":"Hamada","t":20.0,"v":-0.063}
]
},
"hconcat": [
{
 "width": 270, "height": 209,
 "layer": [
  {"data": {"name": "wave"}, "transform": [{"filter": "datum.p == 'a'"}],
   "mark": {"type": "line", "stroke": "#262626", "strokeWidth": 1.7, "interpolate": "monotone"},
   "encoding": {
    "x": {"field": "t", "type": "quantitative", "scale": {"domain": [14, 22], "nice": false, "zero": false}, "axis": {"title": "time(hr,JST)", "values": [14, 16, 18, 20, 22]}},
    "y": {"field": "v", "type": "quantitative", "scale": {"domain": [0, 2], "nice": false, "zero": false}, "axis": {"title": null, "labels": false, "values": [0, 0.2, 0.4, 0.6, 0.8, 1.0, 1.2, 1.4, 1.6, 1.8, 2.0]}},
    "detail": {"field": "s", "type": "nominal"}
   }},
  {"data": {"name": "labels"}, "transform": [{"filter": "datum.p == 'a'"}],
   "mark": {"type": "text", "align": "left", "baseline": "middle", "font": "'Liberation Sans Narrow', 'DejaVu Sans Condensed', 'Liberation Sans', sans-serif", "fontSize": 9.5, "color": "#404040"},
   "encoding": {"x": {"datum": 20.19, "type": "quantitative"}, "y": {"field": "v", "type": "quantitative"}, "text": {"field": "s", "type": "nominal"}}},
  {"data": {"values": [{}]}, "mark": {"type": "text", "text": "2011/3/11,North part", "align": "center", "baseline": "middle", "fontWeight": "bold", "fontSize": 13, "color": "#595959"},
   "encoding": {"x": {"datum": 18.0, "type": "quantitative"}, "y": {"datum": 2.182, "type": "quantitative"}}},
  {"data": {"values": [{}]}, "mark": {"type": "rule", "stroke": "#333333", "strokeWidth": 2},
   "encoding": {"x": {"datum": 21.08, "type": "quantitative"}, "y": {"datum": 0, "type": "quantitative"}, "y2": {"datum": 0.2}}},
  {"data": {"values": [{}]}, "mark": {"type": "text", "text": "0.2m", "align": "left", "baseline": "middle", "fontWeight": "bold", "fontSize": 9.5, "color": "#333333"},
   "encoding": {"x": {"datum": 21.3, "type": "quantitative"}, "y": {"datum": 0.08, "type": "quantitative"}}},
  {"data": {"values": [{}]}, "mark": {"type": "rect", "filled": false, "stroke": "#808080", "strokeWidth": 1},
   "encoding": {"x": {"datum": 13.526, "type": "quantitative"}, "x2": {"datum": 22.207}, "y": {"datum": 2.335, "type": "quantitative"}, "y2": {"datum": -0.459}}},
  {"data": {"values": [{}]}, "mark": {"type": "text", "text": "(a)", "fontSize": 13, "baseline": "middle", "align": "center", "color": "#333333"},
   "encoding": {"x": {"datum": 17.95, "type": "quantitative"}, "y": {"datum": -0.565, "type": "quantitative"}}}
 ]
},
{
 "width": 268, "height": 209,
 "layer": [
  {"data": {"name": "wave"}, "transform": [{"filter": "datum.p == 'b'"}],
   "mark": {"type": "line", "stroke": "#262626", "strokeWidth": 1.7, "interpolate": "monotone"},
   "encoding": {
    "x": {"field": "t", "type": "quantitative", "scale": {"domain": [14, 22], "nice": false, "zero": false}, "axis": {"title": "time(hr,JST)", "values": [14, 16, 18, 20, 22]}},
    "y": {"field": "v", "type": "quantitative", "scale": {"domain": [0, 4], "nice": false, "zero": false}, "axis": {"title": null, "labels": false, "values": [0, 0.5, 1.0, 1.5, 2.0, 2.5, 3.0, 3.5, 4.0]}},
    "detail": {"field": "s", "type": "nominal"}
   }},
  {"data": {"name": "labels"}, "transform": [{"filter": "datum.p == 'b'"}],
   "mark": {"type": "text", "align": "left", "baseline": "middle", "font": "'Liberation Sans Narrow', 'DejaVu Sans Condensed', 'Liberation Sans', sans-serif", "fontSize": 9.5, "color": "#404040"},
   "encoding": {"x": {"datum": 20.2, "type": "quantitative"}, "y": {"field": "v", "type": "quantitative"}, "text": {"field": "s", "type": "nominal"}}},
  {"data": {"values": [{}]}, "mark": {"type": "text", "text": "2011/3/11,Central part", "align": "center", "baseline": "middle", "fontWeight": "bold", "fontSize": 13, "color": "#595959"},
   "encoding": {"x": {"datum": 17.88, "type": "quantitative"}, "y": {"datum": 4.364, "type": "quantitative"}}},
  {"data": {"values": [{}]}, "mark": {"type": "rule", "stroke": "#333333", "strokeWidth": 2},
   "encoding": {"x": {"datum": 14.15, "type": "quantitative"}, "y": {"datum": 3.5, "type": "quantitative"}, "y2": {"datum": 4.0}}},
  {"data": {"values": [{}]}, "mark": {"type": "text", "text": "0.5m", "align": "left", "baseline": "middle", "fontWeight": "bold", "fontSize": 9.5, "color": "#333333"},
   "encoding": {"x": {"datum": 14.3, "type": "quantitative"}, "y": {"datum": 3.77, "type": "quantitative"}}},
  {"data": {"values": [{}]}, "mark": {"type": "rect", "filled": false, "stroke": "#808080", "strokeWidth": 1},
   "encoding": {"x": {"datum": 13.463, "type": "quantitative"}, "x2": {"datum": 22.239}, "y": {"datum": 4.67, "type": "quantitative"}, "y2": {"datum": -0.919}}},
  {"data": {"values": [{}]}, "mark": {"type": "text", "text": "(b)", "fontSize": 13, "baseline": "middle", "align": "center", "color": "#333333"},
   "encoding": {"x": {"datum": 17.82, "type": "quantitative"}, "y": {"datum": -1.11, "type": "quantitative"}}}
 ]
},
{
 "width": 269, "height": 209,
 "layer": [
  {"data": {"name": "wave"}, "transform": [{"filter": "datum.p == 'c'"}],
   "mark": {"type": "line", "stroke": "#262626", "strokeWidth": 1.7, "interpolate": "monotone"},
   "encoding": {
    "x": {"field": "t", "type": "quantitative", "scale": {"domain": [14, 22], "nice": false, "zero": false}, "axis": {"title": "time(hr,JST)", "values": [14, 16, 18, 20, 22]}},
    "y": {"field": "v", "type": "quantitative", "scale": {"domain": [0, 1.8], "nice": false, "zero": false}, "axis": {"title": null, "labels": false, "values": [0, 0.2, 0.4, 0.6, 0.8, 1.0, 1.2, 1.4, 1.6, 1.8]}},
    "detail": {"field": "s", "type": "nominal"}
   }},
  {"data": {"name": "labels"}, "transform": [{"filter": "datum.p == 'c'"}],
   "mark": {"type": "text", "align": "left", "baseline": "middle", "font": "'Liberation Sans Narrow', 'DejaVu Sans Condensed', 'Liberation Sans', sans-serif", "fontSize": 9.5, "color": "#404040"},
   "encoding": {"x": {"datum": 20.26, "type": "quantitative"}, "y": {"field": "v", "type": "quantitative"}, "text": {"field": "s", "type": "nominal"}}},
  {"data": {"values": [{}]}, "mark": {"type": "text", "text": "2011/3/11,West part", "align": "center", "baseline": "middle", "fontWeight": "bold", "fontSize": 13, "color": "#595959"},
   "encoding": {"x": {"datum": 17.99, "type": "quantitative"}, "y": {"datum": 1.929, "type": "quantitative"}}},
  {"data": {"values": [{}]}, "mark": {"type": "rule", "stroke": "#333333", "strokeWidth": 2},
   "encoding": {"x": {"datum": 14.15, "type": "quantitative"}, "y": {"datum": 1.6, "type": "quantitative"}, "y2": {"datum": 1.8}}},
  {"data": {"values": [{}]}, "mark": {"type": "text", "text": "0.2m", "align": "left", "baseline": "middle", "fontWeight": "bold", "fontSize": 9.5, "color": "#333333"},
   "encoding": {"x": {"datum": 14.33, "type": "quantitative"}, "y": {"datum": 1.705, "type": "quantitative"}}},
  {"data": {"values": [{}]}, "mark": {"type": "rect", "filled": false, "stroke": "#808080", "strokeWidth": 1},
   "encoding": {"x": {"datum": 13.524, "type": "quantitative"}, "x2": {"datum": 22.178}, "y": {"datum": 2.076, "type": "quantitative"}, "y2": {"datum": -0.439}}},
  {"data": {"values": [{}]}, "mark": {"type": "text", "text": "(c)", "fontSize": 13, "baseline": "middle", "align": "center", "color": "#333333"},
   "encoding": {"x": {"datum": 17.74, "type": "quantitative"}, "y": {"datum": -0.543, "type": "quantitative"}}}
 ]
}
]
}
